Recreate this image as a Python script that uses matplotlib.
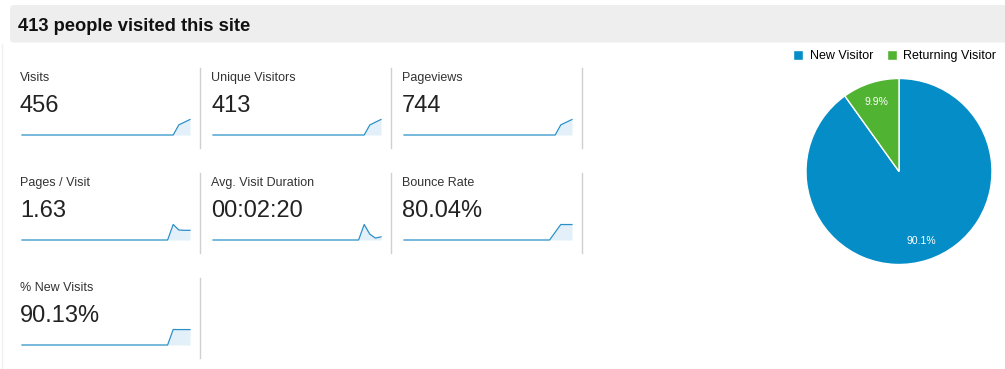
import matplotlib
matplotlib.use("Agg")
import matplotlib.pyplot as plt
from matplotlib.patches import FancyBboxPatch

W, H = 1005, 369

# --- data -------------------------------------------------------------------
title = "413 people visited this site"

labels = ["Visits", "Unique Visitors", "Pageviews",
          "Pages / Visit", "Avg. Visit Duration", "Bounce Rate",
          "% New Visits"]
totals = ["456", "413", "744", "1.63", "00:02:20", "80.04%", "90.13%"]

# daily values over the month (31 days), read from the sparklines
visits = [0, 0, 0, 0, 0, 0, 0, 0, 0, 0,
          0, 0, 0, 0, 0, 0, 0, 0, 0, 0,
          0, 0, 0, 0, 0, 0, 0, 0, 120, 152, 184]
unique_visitors = [0, 0, 0, 0, 0, 0, 0, 0, 0, 0,
                   0, 0, 0, 0, 0, 0, 0, 0, 0, 0,
                   0, 0, 0, 0, 0, 0, 0, 0, 108, 138, 167]
pageviews = [0, 0, 0, 0, 0, 0, 0, 0, 0, 0,
             0, 0, 0, 0, 0, 0, 0, 0, 0, 0,
             0, 0, 0, 0, 0, 0, 0, 0, 196, 248, 300]
pages_per_visit = [0, 0, 0, 0, 0, 0, 0, 0, 0, 0,
                   0, 0, 0, 0, 0, 0, 0, 0, 0, 0,
                   0, 0, 0, 0, 0, 0, 0, 2.6, 1.68, 1.62, 1.63]
avg_duration = [0, 0, 0, 0, 0, 0, 0, 0, 0, 0,
                0, 0, 0, 0, 0, 0, 0, 0, 0, 0,
                0, 0, 0, 0, 0, 0, 0, 420, 158, 52, 85]
bounce_rate = [0, 0, 0, 0, 0, 0, 0, 0, 0, 0,
               0, 0, 0, 0, 0, 0, 0, 0, 0, 0,
               0, 0, 0, 0, 0, 0, 0, 40.5, 80.4, 80.1, 80.2]
new_visits = [0, 0, 0, 0, 0, 0, 0, 0, 0, 0,
              0, 0, 0, 0, 0, 0, 0, 0, 0, 0,
              0, 0, 0, 0, 0, 0, 0, 90.6, 90.1, 90.2, 90.1]
series = [visits, unique_visitors, pageviews, pages_per_visit,
          avg_duration, bounce_rate, new_visits]

pie_labels = ["New Visitor", "Returning Visitor"]
pie_values = [90.1, 9.9]
pie_colors = ["#058dc7", "#50b432"]

plt.rcParams["font.family"] = ["Liberation Sans", "DejaVu Sans"]

fig = plt.figure(figsize=(W / 100, H / 100), dpi=100)
fig.patch.set_facecolor("white")

# canvas axes in pixel units (origin top-left) for the page decoration
canvas = fig.add_axes([0, 0, 1, 1])
canvas.set_xlim(0, W)
canvas.set_ylim(H, 0)
canvas.axis("off")


def fig_box(x, y_top, w, h):
    return [x / W, 1 - (y_top + h) / H, w / W, h / H]


# header bar
canvas.add_patch(FancyBboxPatch((10, 5), 1000, 37.5,
                                boxstyle="round,pad=0,rounding_size=4",
                                facecolor="#eeeeee", edgecolor="none"))
canvas.text(18, 31, title, fontsize=13.2, fontweight="bold",
            color="#111111", va="baseline", ha="left")
canvas.plot([1.5, 1.5], [44, H], color="#f0f0f0", lw=1)

# tiles
for i, (lab, tot, vals) in enumerate(zip(labels, totals, series)):
    col, row = i % 3, i // 3
    x0 = 20 + 191 * col
    dy = 105 * row
    canvas.text(x0, 81 + dy, lab, fontsize=9, color="#333333",
                va="baseline", ha="left")
    canvas.text(x0, 112 + dy, tot, fontsize=17, color="#222222",
                va="baseline", ha="left")

    ax = fig.add_axes(fig_box(22 + 191 * col, 119.5 + dy, 168, 15.5))
    days = range(len(vals))
    ax.fill_between(days, vals, 0, color="#e3f0f9", lw=0)
    ax.plot(days, vals, color="#2a90c8", lw=0.9, clip_on=False,
            solid_joinstyle="round")
    ax.set_xlim(0, len(vals) - 1)
    ax.set_ylim(0, max(vals))
    ax.axis("off")

# separators
for row in range(3):
    xs = [200, 391, 582] if row < 2 else [200]
    for xs_ in xs:
        canvas.plot([xs_, xs_], [68 + 105 * row, 148 + 105 * row],
                    color="#d0d0d0", lw=1)

# pie
pax = fig.add_axes(fig_box(806, 78.5, 186, 186))
wedges, _, autotexts = pax.pie(
    pie_values, colors=pie_colors, startangle=90, counterclock=False,
    autopct="%.1f%%", pctdistance=0.79, radius=1,
    wedgeprops=dict(edgecolor="white", linewidth=1),
    textprops=dict(color="white", fontsize=7.5))
pax.set_xlim(-1, 1)
pax.set_ylim(-1, 1)
pax.set_aspect("equal")

fig.legend(wedges, pie_labels, loc="upper right",
           bbox_to_anchor=(996 / W, 1 - 50 / H), ncol=2, frameon=False,
           fontsize=9, handlelength=0.8, handleheight=0.8,
           handletextpad=0.5, columnspacing=1.1, borderpad=0,
           borderaxespad=0)

fig.savefig("out.png", dpi=100)
